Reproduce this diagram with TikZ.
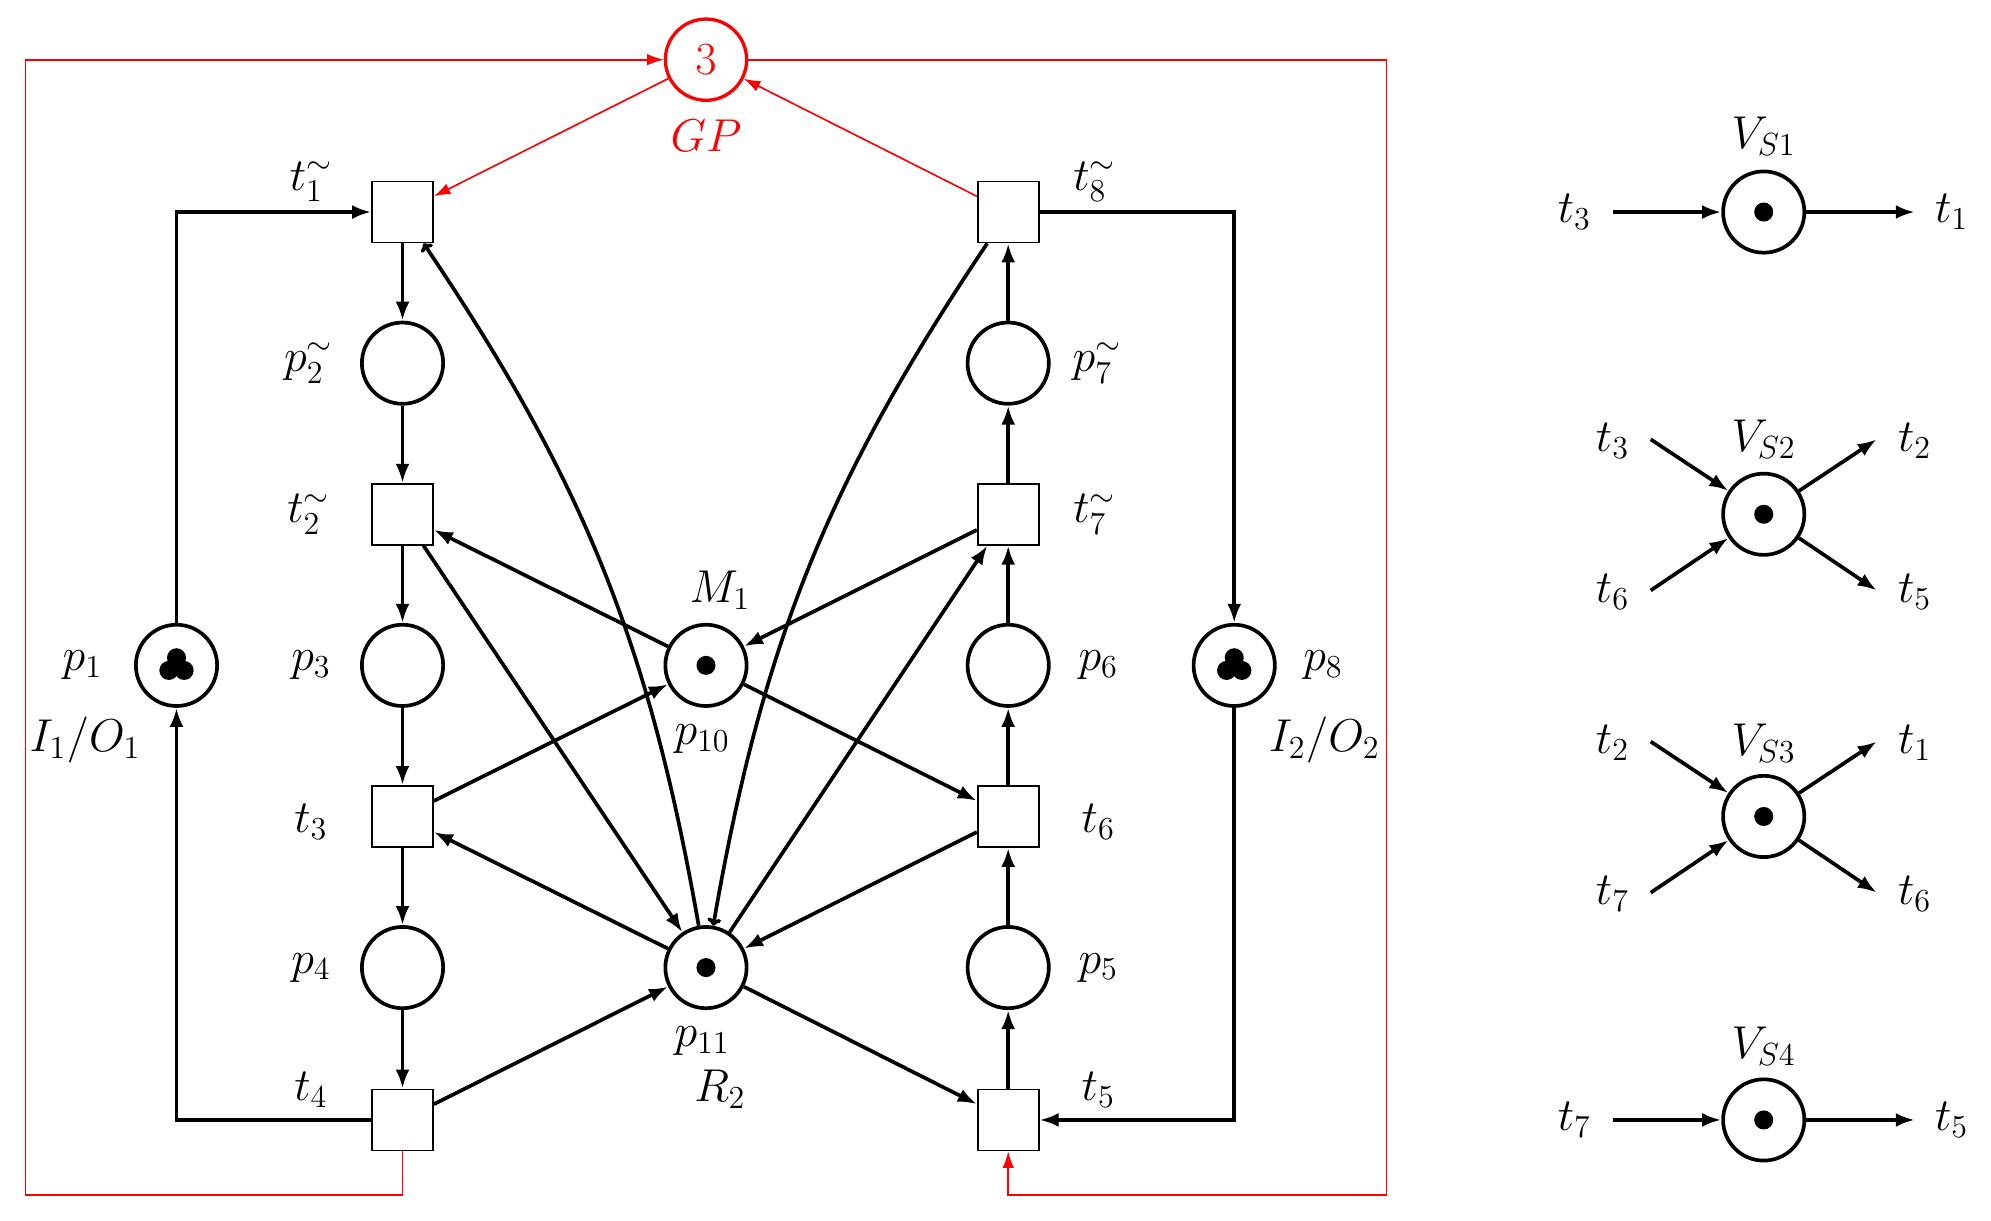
\documentclass[tikz,border=0pt]{standalone}
\usetikzlibrary{arrows.meta}
\begin{document}
\begin{tikzpicture}[x=1pt,y=-1pt,
 lab/.style={font=\LARGE,scale=2.1},
 pl/.style={circle,draw,line width=2.9pt,minimum size=64pt,inner sep=0pt},
 tr/.style={rectangle,draw,line width=1.4pt,minimum size=48pt,inner sep=0pt,fill=white},
 arc/.style={line width=2.9pt,-{Latex[length=15pt,width=11pt]}},
 carc/.style={line width=2.9pt,-{To[length=6pt,width=11pt]}},
 rarc/.style={red,line width=1.3pt,-{Latex[length=13pt,width=9pt]}},
 tok/.style={circle,fill,inner sep=0pt,minimum size=15pt}]
\useasboundingbox (0,0) rectangle (1568,961);
% transitions
\node[tr] (t1) at (317,167) {};
\node[tr] (t2) at (317,405) {};
\node[tr] (t3) at (317,643) {};
\node[tr] (t4) at (317,882) {};
\node[tr] (t8) at (794,167) {};
\node[tr] (t7) at (794,405) {};
\node[tr] (t6) at (794,643) {};
\node[tr] (t5) at (794,882) {};
% places
\node[pl] (p2) at (317,286) {};
\node[pl] (p3) at (317,524) {};
\node[pl] (p4) at (317,762) {};
\node[pl] (p7) at (794,286) {};
\node[pl] (p6) at (794,524) {};
\node[pl] (p5) at (794,762) {};
\node[pl] (p1) at (139,524) {};
\node[pl] (p8) at (972,524) {};
\node[pl] (p10) at (556,524) {};
\node[pl] (p11) at (556,762) {};
\node[pl,red,line width=2.6pt] (gp) at (556,47) {};
\node[lab,red] (gpn) at (556,47) {$3$};
\node[lab,red] (gpl) at (556,107) {$GP$};
\node[tok] (k10) at (p10) {};
\node[tok] (k11) at (p11) {};
\foreach \P in {p1,p8}{
 \node[tok] at ([shift={(0,-6)}]\P) {};
 \node[tok] at ([shift={(-6,4)}]\P) {};
 \node[tok] at ([shift={(6,4)}]\P) {};}
% labels
\node[lab] (l1) at (245,143) {$t_1^{\sim}$};
\node[lab] (l2) at (243,286) {$p_2^{\sim}$};
\node[lab] (l3) at (243,405) {$t_2^{\sim}$};
\node[lab] (l4) at (245,524) {$p_3$};
\node[lab] (l5) at (245,647) {$t_3$};
\node[lab] (l6) at (245,762) {$p_4$};
\node[lab] (l7) at (245,858) {$t_4$};
\node[lab] (l8) at (862,143) {$t_8^{\sim}$};
\node[lab] (l9) at (864,286) {$p_7^{\sim}$};
\node[lab] (l10) at (862,405) {$t_7^{\sim}$};
\node[lab] (l11) at (865,524) {$p_6$};
\node[lab] (l12) at (865,647) {$t_6$};
\node[lab] (l13) at (865,762) {$p_5$};
\node[lab] (l14) at (865,858) {$t_5$};
\node[lab] (l15) at (65,524) {$p_1$};
\node[lab] (l16) at (67,583) {$I_1/O_1$};
\node[lab] (l17) at (1042,524) {$p_8$};
\node[lab] (l18) at (1043,583) {$I_2/O_2$};
\node[lab] (l19) at (567,465) {$M_1$};
\node[lab] (l20) at (553,582) {$p_{10}$};
\node[lab] (l21) at (553,820) {$p_{11}$};
\node[lab] (l22) at (567,858) {$R_2$};
% vertical arcs
\draw[arc] (t1) -- (p2);
\draw[arc] (p2) -- (t2);
\draw[arc] (t2) -- (p3);
\draw[arc] (p3) -- (t3);
\draw[arc] (t3) -- (p4);
\draw[arc] (p4) -- (t4);
\draw[arc] (t5) -- (p5);
\draw[arc] (p5) -- (t6);
\draw[arc] (t6) -- (p6);
\draw[arc] (p6) -- (t7);
\draw[arc] (t7) -- (p7);
\draw[arc] (p7) -- (t8);
% loops
\draw[arc] (t4.west) -| (p1.south);
\draw[arc] (p1.north) |- (t1.west);
\draw[arc] (t8.east) -| (p8.north);
\draw[arc] (p8.south) |- (t5.east);
% cross arcs
\draw[arc] (p10) -- (t2);
\draw[arc] (t2) -- (p11);
\draw[arc] (t3) -- (p10);
\draw[arc] (p11) -- (t3);
\draw[arc] (t4) -- (p11);
\draw[arc] (p10) -- (t6);
\draw[arc] (t6) -- (p11);
\draw[arc] (p11) -- (t7);
\draw[arc] (t7) -- (p10);
\draw[arc] (p11) -- (t5);
\draw[carc] (p11) to[bend right=12] (t1);
\draw[carc] (t8) to[bend right=12] (p11);
% red
\coordinate (r1) at (317,941); \coordinate (r2) at (20,941); \coordinate (r3) at (20,47);
\coordinate (r4) at (1092,47); \coordinate (r5) at (1092,941); \coordinate (r6) at (794,941);
\draw[rarc] (t4.south) -- (r1) -- (r2) -- (r3) -- (gp.west);
\draw[rarc] (gp.east) -- (r4) -- (r5) -- (r6) -- (t5.south);
\draw[rarc] (gp) -- (t1);
\draw[rarc] (t8) -- (gp);
% side places
\node[pl] (v1) at (1389,167) {}; \node[tok] at (v1) {};
\node[pl] (v2) at (1389,405) {}; \node[tok] at (v2) {};
\node[pl] (v3) at (1389,643) {}; \node[tok] at (v3) {};
\node[pl] (v4) at (1389,882) {}; \node[tok] at (v4) {};
\node[lab] (s1) at (1389,107) {$V_{S1}$};
\node[lab] (s2) at (1389,346) {$V_{S2}$};
\node[lab] (s3) at (1389,585) {$V_{S3}$};
\node[lab] (s4) at (1389,824) {$V_{S4}$};
\node[lab] (a1) at (1240,167) {$t_3$}; \node[lab] (b1) at (1537,167) {$t_1$};
\coordinate (ia1) at (1270,167); \coordinate (ob1) at (1508,167);
\draw[arc] (ia1) -- (v1); \draw[arc] (v1) -- (ob1);
\node[lab] (a4) at (1240,882) {$t_7$}; \node[lab] (b4) at (1537,882) {$t_5$};
\coordinate (ia4) at (1270,882); \coordinate (ob4) at (1508,882);
\draw[arc] (ia4) -- (v4); \draw[arc] (v4) -- (ob4);
\foreach \V/\y/\a/\b/\c/\d in {v2/405/t_3/t_6/t_2/t_5, v3/643/t_2/t_7/t_1/t_6}{
 \node[lab] at (1270,\y-58) {$\a$};
 \node[lab] at (1270,\y+61) {$\b$};
 \node[lab] at (1508,\y-58) {$\c$};
 \node[lab] at (1508,\y+61) {$\d$};
 \coordinate (i\V a) at (1300,\y-59);
 \coordinate (i\V b) at (1300,\y+60);
 \coordinate (o\V a) at (1478,\y-59);
 \coordinate (o\V b) at (1478,\y+60);
 \draw[arc] (i\V a) -- (\V); \draw[arc] (i\V b) -- (\V);
 \draw[arc] (\V) -- (o\V a); \draw[arc] (\V) -- (o\V b);}
\end{tikzpicture}
\end{document}
